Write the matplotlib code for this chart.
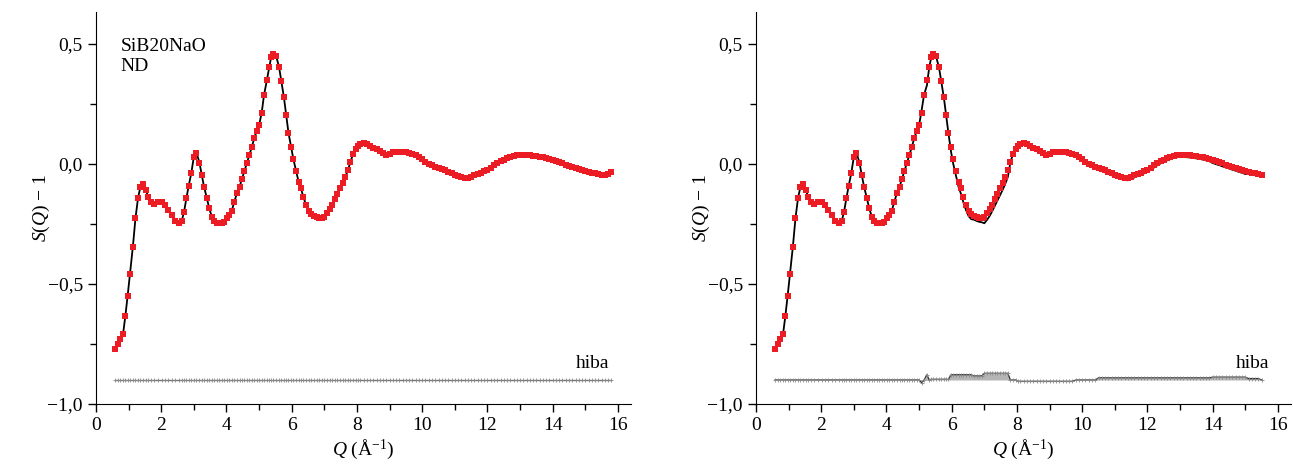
import numpy as np
import matplotlib.pyplot as plt
from matplotlib.ticker import MultipleLocator, FuncFormatter

plt.rcParams.update({
    'font.family': ['Liberation Serif', 'DejaVu Serif'],
    'font.size': 14,
    'mathtext.fontset': 'custom',
    'mathtext.rm': 'Liberation Serif',
    'mathtext.it': 'Liberation Serif:italic',
})

q = [0.58, 0.68, 0.75, 0.83, 0.90, 0.97, 1.04, 1.13, 1.21, 1.29, 1.36, 1.45, 1.53, 1.60,
     1.69, 1.79, 1.91, 2.02, 2.12, 2.22, 2.32, 2.42, 2.53, 2.63, 2.70, 2.77, 2.84, 2.92,
     3.00, 3.08, 3.17, 3.24, 3.31, 3.40, 3.47, 3.55, 3.63, 3.71, 3.78, 3.85, 3.91, 4.01,
     4.09, 4.16, 4.24, 4.32, 4.40, 4.47, 4.55, 4.62, 4.70, 4.78, 4.85, 4.93, 5.00, 5.08,
     5.15, 5.24, 5.31, 5.37, 5.44, 5.52, 5.61, 5.68, 5.76, 5.83, 5.90, 5.98, 6.05, 6.13,
     6.21, 6.28, 6.36, 6.44, 6.52, 6.60, 6.68, 6.76, 6.84, 6.92, 7.00, 7.08, 7.16, 7.24,
     7.32, 7.40, 7.48, 7.56, 7.64, 7.72, 7.80, 7.88, 7.96, 8.04,
     8.1, 8.2, 8.3, 8.4, 8.5, 8.6, 8.7, 8.8, 8.9, 9.0, 9.1, 9.2, 9.3, 9.4, 9.5, 9.6, 9.7,
     9.8, 9.9, 10.0, 10.1, 10.2, 10.3, 10.4, 10.5, 10.6, 10.7, 10.8, 10.9, 11.0, 11.1,
     11.2, 11.3, 11.4, 11.5, 11.6, 11.7, 11.8, 11.9, 12.0, 12.1, 12.2, 12.3, 12.4, 12.5,
     12.6, 12.7, 12.8, 12.9, 13.0, 13.1, 13.2, 13.3, 13.4, 13.5, 13.6, 13.7, 13.8, 13.9,
     14.0, 14.1, 14.2, 14.3, 14.4, 14.5, 14.6, 14.7, 14.8, 14.9, 15.0, 15.1, 15.2, 15.3,
     15.4, 15.5, 15.6, 15.7, 15.8]
s = [-0.772, -0.750, -0.730, -0.708, -0.633, -0.549, -0.458, -0.345, -0.226, -0.140,
     -0.097, -0.085, -0.108, -0.139, -0.158, -0.167, -0.160, -0.160, -0.172, -0.192,
     -0.212, -0.237, -0.247, -0.236, -0.199, -0.143, -0.092, -0.039, 0.030, 0.047,
     0.006, -0.044, -0.094, -0.143, -0.185, -0.219, -0.237, -0.246, -0.248, -0.245,
     -0.240, -0.226, -0.213, -0.196, -0.157, -0.122, -0.095, -0.064, -0.028, 0.003,
     0.037, 0.072, 0.107, 0.139, 0.162, 0.214, 0.287, 0.350, 0.403, 0.445, 0.456,
     0.450, 0.405, 0.347, 0.278, 0.204, 0.130, 0.072, 0.020, -0.028, -0.074, -0.101,
     -0.139, -0.171, -0.196, -0.208, -0.215, -0.220, -0.224, -0.226, -0.219, -0.205,
     -0.189, -0.169, -0.147, -0.124, -0.102, -0.080, -0.055, -0.026, 0.008, 0.042,
     0.064, 0.075,
     0.082, 0.087, 0.083, 0.074, 0.068, 0.062, 0.053, 0.044, 0.038, 0.043, 0.048,
     0.051, 0.051, 0.050, 0.049, 0.047, 0.043, 0.036, 0.027, 0.019, 0.010, 0.000,
     -0.006, -0.011, -0.016, -0.020, -0.026, -0.032, -0.038, -0.044, -0.049, -0.054,
     -0.058, -0.059, -0.054, -0.047, -0.041, -0.036, -0.030, -0.024, -0.015, -0.006,
     0.003, 0.011, 0.018, 0.024, 0.029, 0.034, 0.037, 0.038, 0.038, 0.037, 0.036,
     0.034, 0.032, 0.030, 0.027, 0.024, 0.020, 0.016, 0.011, 0.007, 0.002, -0.003,
     -0.007, -0.012, -0.016, -0.021, -0.025, -0.030, -0.033, -0.036, -0.038, -0.041,
     -0.044, -0.046, -0.042, -0.033]

# right panel: data up to 15.5, and the fit error (hiba) in blocks (q from, q to, value)
q_max_right = 15.5
hiba_blocks = [(5.05, 5.12, -0.012), (5.2, 5.28, 0.022), (5.35, 5.95, 0.003),
               (5.95, 6.62, 0.022), (6.62, 6.98, 0.017), (6.98, 7.78, 0.028),
               (8.0, 9.75, -0.006), (10.45, 13.95, 0.009), (13.95, 15.1, 0.012),
               (15.1, 15.5, 0.006)]

hiba_level = -0.9
red = '#ec1c24'


def fmt_y(v, pos):
    return f'{v:.1f}'.replace('.', ',').replace('-', '\u2212')


def fmt_x(v, pos):
    return f'{v:.0f}'


def style(ax):
    ax.set_xlim(0, 16.4)
    ax.set_ylim(-1.0, 0.633)
    ax.spines['top'].set_visible(False)
    ax.spines['right'].set_visible(False)
    ax.xaxis.set_major_locator(MultipleLocator(2))
    ax.xaxis.set_minor_locator(MultipleLocator(1))
    ax.yaxis.set_major_locator(MultipleLocator(0.5))
    ax.yaxis.set_minor_locator(MultipleLocator(0.25))
    ax.yaxis.set_major_formatter(FuncFormatter(fmt_y))
    ax.xaxis.set_major_formatter(FuncFormatter(fmt_x))
    ax.tick_params(which='major', direction='out', length=6, width=1, labelsize=14)
    ax.tick_params(which='minor', direction='out', length=4, width=1)
    ax.set_xlabel('$Q$ (Å$^{-1}$)', fontsize=14, labelpad=2)
    ax.set_ylabel('$S$($Q$) \u2212 1', fontsize=14)
    ax.yaxis.set_label_coords(-0.082, 0.5)


fig = plt.figure(figsize=(12.93, 4.65), dpi=100)
ax1 = fig.add_axes([96 / 1293, 61 / 465, 535 / 1293, 392 / 465])
ax2 = fig.add_axes([756 / 1293, 61 / 465, 535 / 1293, 392 / 465])

qa = np.array(q)
sa = np.array(s)

# left: fit follows data, error ~ 0
fit_l = sa.copy()
err_l = sa - fit_l

# right
mask = qa <= q_max_right
q_r = qa[mask]
s_r = sa[mask]
err_r = np.zeros_like(q_r)
for a, b, v in hiba_blocks:
    err_r[(q_r >= a) & (q_r < b)] = v
fit_r = s_r - err_r

for ax, qq, ss, ff, ee in [(ax1, qa, sa, fit_l, err_l), (ax2, q_r, s_r, fit_r, err_r)]:
    ax.fill_between(qq, hiba_level, hiba_level + ee, color='#b5b5b5', lw=0, zorder=1)
    ax.plot(qq, hiba_level + ee, color='#333333', lw=0.9, marker='+', ms=3,
            mec='#888888', mew=0.6, zorder=2)
    ax.plot(qq, ff, color='black', lw=1.3, zorder=3)
    ax.plot(qq, ss, 's', color=red, ms=4.3, mew=0, zorder=4)
    ax.text(15.75, -0.85, 'hiba', ha='right', va='baseline', fontsize=14)
    style(ax)

ax1.text(0.75, 0.37, 'SiB20NaO\nND', ha='left', va='bottom', fontsize=14, linespacing=1.25)

fig.savefig('out.png', dpi=100)
